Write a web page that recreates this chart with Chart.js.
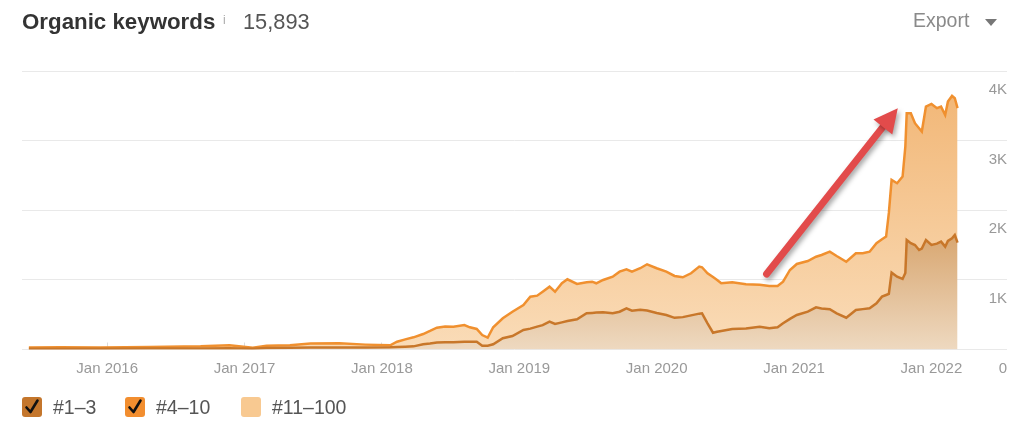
<!DOCTYPE html>
<html>
<head>
<meta charset="utf-8">
<script src="https://cdn.jsdelivr.net/npm/chart.js@4.4.1/dist/chart.umd.min.js"></script>
<style>
  html,body{margin:0;padding:0;background:#fff;}
  body{width:1024px;height:423px;position:relative;overflow:hidden;font-family:Arial,"Liberation Sans",sans-serif;}
  #wrap{position:absolute;left:0;top:0;width:1024px;height:423px;}
  .t{position:absolute;white-space:nowrap;line-height:24px;}
  #title{left:22px;top:10px;font-size:22.3px;font-weight:bold;color:#333;}
  #info{left:223px;top:8px;font-size:12px;color:#aaa;}
  #count{left:243px;top:10px;font-size:21.8px;color:#555;}
  #export{left:913px;top:10px;font-size:19.5px;color:#8a8a8a;line-height:20px;}
  #tri{position:absolute;left:985px;top:19px;width:0;height:0;border-left:6px solid transparent;border-right:6px solid transparent;border-top:7px solid #777;}
  .lg{position:absolute;top:397px;height:20px;display:flex;align-items:center;}
  .box{width:20px;height:20px;border-radius:3px;position:relative;}
  .box svg{position:absolute;left:0;top:0;}
  .lt{margin-left:11px;font-size:19.5px;color:#555;line-height:20px;}
</style>
</head>
<body>
<div id="wrap"><canvas id="c"></canvas></div>
<div class="t" id="title">Organic keywords</div>
<div class="t" id="info">i</div>
<div class="t" id="count">15,893</div>
<div class="t" id="export">Export</div>
<div id="tri"></div>
<div id="legend"></div>
<script>
// ---- data (decimal years) ----
const dates = [2015.43,2015.66,2015.95,2016.31,2016.68,2016.89,2017.06,2017.16,2017.33,2017.48,
  2017.69,2017.88,2018.06,2018.11,2018.17,2018.23,2018.30,2018.35,2018.40,2018.46,
  2018.52,2018.60,2018.64,2018.69,2018.73,2018.77,2018.81,2018.88,2018.95,2019.03,
  2019.08,2019.13,2019.17,2019.22,2019.26,2019.31,2019.35,2019.42,2019.49,2019.53,
  2019.56,2019.61,2019.68,2019.73,2019.78,2019.82,2019.88,2019.93,2020.00,2020.07,
  2020.13,2020.19,2020.25,2020.31,2020.33,2020.37,2020.41,2020.44,2020.47,2020.55,
  2020.65,2020.75,2020.82,2020.88,2020.92,2020.97,2021.02,2021.10,2021.16,2021.20,
  2021.26,2021.31,2021.38,2021.45,2021.50,2021.55,2021.60,2021.64,2021.67,2021.69,
  2021.71,2021.75,2021.79,2021.81,2021.82,2021.85,2021.88,2021.91,2021.93,2021.96,
  2022.00,2022.04,2022.07,2022.10,2022.12,2022.15,2022.17,2022.19];
const pos1to3 = [12,12,12,14,16,18,12,22,26,28,
  30,30,32,35,40,45,75,85,100,105,
  105,110,112,112,55,55,75,161,194,280,
  300,328,350,400,366,390,410,434,520,525,
  530,534,522,543,592,557,570,560,525,496,
  455,465,490,515,520,376,241,255,266,295,
  300,328,304,320,376,440,496,543,606,590,
  578,520,457,568,580,592,664,759,783,800,
  1104,1046,1013,1100,1573,1526,1500,1430,1450,1573,
  1501,1520,1549,1477,1560,1598,1645,1535];
const pos4to10 = [18,20,18,21,29,42,13,33,36,57,
  58,40,28,77,106,130,147,181,213,225,
  223,242,207,183,153,115,244,287,349,359,
  459,445,480,502,464,561,598,507,445,449,
  421,465,524,575,560,561,597,664,642,622,
  601,572,605,675,661,719,799,744,685,670,
  637,602,608,592,598,702,732,728,727,768,
  827,823,804,814,802,813,862,824,838,1161,
  1331,1342,1470,1814,1821,1868,1750,1748,1680,1916,
  2026,1946,1940,1892,2000,2044,1964,1931];
const seriesNames = ['#1–3','#4–10','#11–100'];
const seriesOn = [true,true,false];
const tickYears = [2016,2017,2018,2019,2020,2021,2022];
const tickLabels = ['Jan 2016','Jan 2017','Jan 2018','Jan 2019','Jan 2020','Jan 2021','Jan 2022'];
const yTicks = [0,1000,2000,3000,4000];
const yTickLabels = ['0','1K','2K','3K','4K'];
const xRange = [2015.38, 2022.55];
const arrowFrom = [2020.80, 1085];
const arrowTo = [2021.755, 3466];

// ---- legend ----
const swatch = ['#c4762c','#f28e2f','#f8c991'];
const legendX = [22,125,241];
const lg = document.getElementById('legend');
seriesNames.forEach((n,i)=>{
  const d = document.createElement('div');
  d.className='lg'; d.style.left=legendX[i]+'px';
  const chk = seriesOn[i] ? '<svg width="20" height="20"><polyline points="4.5,10.5 8.5,15 15.5,3.5" fill="none" stroke="#111" stroke-width="2.6" stroke-linecap="round" stroke-linejoin="round"/></svg>' : '';
  d.innerHTML = '<div class="box" style="background:'+swatch[i]+'">'+chk+'</div><span class="lt">'+n+'</span>';
  lg.appendChild(d);
});

function grad(ctx, area, stops){
  const g = ctx.createLinearGradient(0, area.top, 0, area.bottom);
  stops.forEach(s=>g.addColorStop(s[0], s[1]));
  return g;
}

const arrowPlugin = {
  id:'arrow',
  afterDraw(chart){
    const {ctx, scales:{x,y}} = chart;
    const x0=x.getPixelForValue(arrowFrom[0]), y0=y.getPixelForValue(arrowFrom[1]);
    const x1=x.getPixelForValue(arrowTo[0]), y1=y.getPixelForValue(arrowTo[1]);
    const ang=Math.atan2(y1-y0,x1-x0);
    const headLen=24, headHalf=12;
    const bx=x1-Math.cos(ang)*headLen, by=y1-Math.sin(ang)*headLen;
    ctx.save();
    ctx.shadowColor='rgba(0,0,0,0.35)';
    ctx.shadowBlur=5; ctx.shadowOffsetX=2; ctx.shadowOffsetY=3;
    ctx.strokeStyle='#e24b4b'; ctx.fillStyle='#e24b4b';
    ctx.lineWidth=7; ctx.lineCap='round';
    ctx.beginPath(); ctx.moveTo(x0,y0); ctx.lineTo(bx+Math.cos(ang)*2,by+Math.sin(ang)*2); ctx.stroke();
    ctx.beginPath();
    ctx.moveTo(x1,y1);
    ctx.lineTo(bx+Math.sin(ang)*headHalf, by-Math.cos(ang)*headHalf);
    ctx.lineTo(bx-Math.sin(ang)*headHalf, by+Math.cos(ang)*headHalf);
    ctx.closePath(); ctx.fill();
    ctx.restore();
  }
};

new Chart(document.getElementById('c'), {
  type:'line',
  data:{
    datasets:[
      {
        label:seriesNames[0],
        data:dates.map((d,i)=>({x:d,y:pos1to3[i]})),
        borderColor:'#c8772a', borderWidth:2.5, pointRadius:0, tension:0,
        fill:'origin',
        backgroundColor:(c)=>{const a=c.chart.chartArea; if(!a) return 'rgba(200,120,44,0.4)';
          return grad(c.chart.ctx,a,[[0,'#d09253'],[0.6,'#d9a873'],[1,'#eed9c0']]);}
      },
      {
        label:seriesNames[1],
        data:dates.map((d,i)=>({x:d,y:pos4to10[i]})),
        borderColor:'#f0902f', borderWidth:2.5, pointRadius:0, tension:0,
        fill:'-1',
        backgroundColor:(c)=>{const a=c.chart.chartArea; if(!a) return 'rgba(242,142,47,0.4)';
          return grad(c.chart.ctx,a,[[0,'#f1b472'],[1,'#fadcb8']]);}
      }
    ]
  },
  options:{
    responsive:true, maintainAspectRatio:false, animation:false,
    layout:{padding:{left:22,right:17,top:71,bottom:28.5}},
    plugins:{legend:{display:false}, tooltip:{enabled:false}},
    scales:{
      x:{
        type:'linear', min:xRange[0], max:xRange[1], z:1,
        afterBuildTicks:(s)=>{s.ticks=tickYears.map(v=>({value:v}));},
        ticks:{callback:(v)=>tickLabels[tickYears.indexOf(v)], color:'#999', font:{size:15,family:'Arial, "Liberation Sans"'}, padding:17, maxRotation:0, autoSkip:false},
        grid:{drawOnChartArea:false, drawTicks:true, tickLength:-7, color:'#dcdcdc'},
        border:{display:false}
      },
      y:{
        position:'right', stacked:true, min:0, max:4000, z:1,
        afterBuildTicks:(s)=>{s.ticks=yTicks.map(v=>({value:v}));},
        ticks:{mirror:true, padding:0, labelOffset:19, color:'#999', font:{size:15,family:'Arial, "Liberation Sans"'},
          callback:(v)=>yTickLabels[yTicks.indexOf(v)]},
        grid:{color:'#e9e9e9', drawTicks:false, lineWidth:1},
        border:{display:false}
      }
    }
  },
  plugins:[arrowPlugin]
});
</script>
</body>
</html>
